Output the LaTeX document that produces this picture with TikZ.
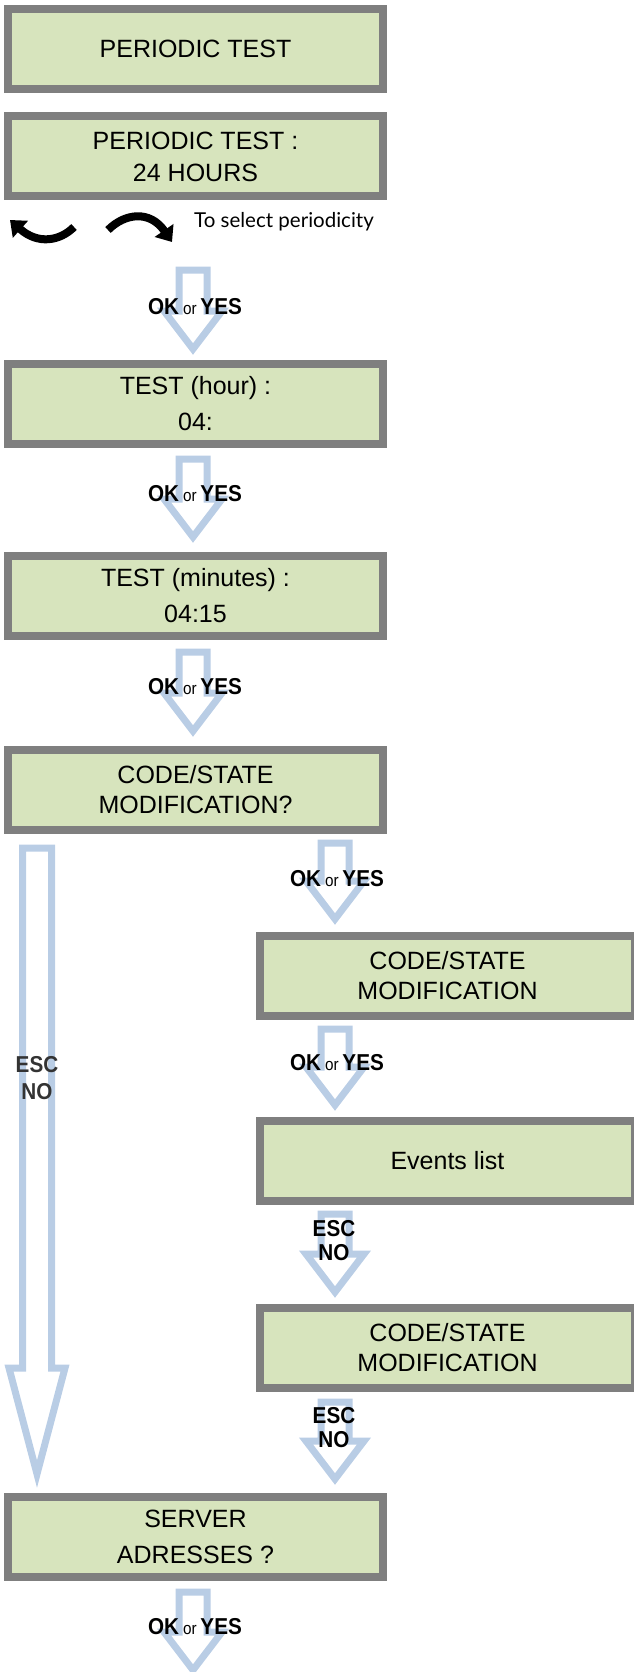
\documentclass[tikz,border=0pt]{standalone}
\usepackage{fontspec}
\setmainfont{Liberation Sans}
\newfontfamily\narrowsans[FakeStretch=0.9]{Liberation Sans}
\newfontfamily\hintfont{Lato}
\usetikzlibrary{arrows.meta,calc}
\definecolor{lcdgreen}{HTML}{D7E4BD}
\definecolor{lcdframe}{HTML}{7F7F7F}
\definecolor{keyblue}{HTML}{B9CDE5}
\tikzset{
lcd/.style={draw=lcdframe, fill=lcdgreen, line width=8pt, minimum width=375pt,
    minimum height=80pt, align=center, inner sep=0pt,
    font=\fontsize{25}{30}\selectfont},
keypath/.style={draw=keyblue, line width=7pt},
keylabel/.style={inner sep=0pt, align=center, font=\narrowsans\fontsize{23}{24}\selectfont},
turn/.style={line width=8pt, -{Triangle[length=14pt,width=22pt]}}
}
\newcommand{\okyes}{\textbf{OK}\,{\fontsize{17}{17}\selectfont or}\,\textbf{YES}}
\newcommand{\keyarrow}[5]{%
  \draw[keypath] let \p1=(#1), \p2=(#2) in
    (\x1-#3pt,\y1) -- (\x1+#3pt,\y1) -- (\x1+#3pt,\y2+#5pt) -- (\x1+#4pt,\y2+#5pt)
    -- (\x2,\y2) -- (\x1-#4pt,\y2+#5pt) -- (\x1-#3pt,\y2+#5pt) -- cycle;}

\begin{document}
\begin{tikzpicture}[x=1pt,y=-1pt]
    \useasboundingbox (0,0) rectangle (634,1672);
    \node[lcd] (b1) at (195.5,49) {PERIODIC TEST};
    \node[lcd] (b2) at (195.5,156.5) {PERIODIC TEST :\\[2pt]24 HOURS};
    \node[lcd] (b3) at (195.5,403.5) {TEST (hour) :\\[6pt]04:};
    \node[lcd] (b4) at (195.5,596) {TEST (minutes) :\\[6pt]04:15};
    \node[lcd] (b5) at (195.5,790) {CODE/STATE\\MODIFICATION?};
    \node[lcd] (b6) at (447.5,976) {CODE/STATE\\MODIFICATION};
    \node[lcd] (b7) at (447.5,1161) {Events list};
    \node[lcd] (b8) at (447.5,1348) {CODE/STATE\\MODIFICATION};
    \node[lcd] (b9) at (195.5,1536.5) {SERVER\\[6pt]ADRESSES ?};

    \draw[turn] (74,227) .. controls (60,241) and (38,245) .. (10,220);
    \draw[turn] (108,230) .. controls (125,213) and (150,210) .. (172,242);
    \node[font=\hintfont\fontsize{20.5}{22}\selectfont, inner sep=0pt] (hint) at (284,222) {To select periodicity};

    \coordinate (a1) at (193,270);  \coordinate (a1t) at (193,349);
    \coordinate (a2) at (193,459);  \coordinate (a2t) at (193,537);
    \coordinate (a3) at (193,652);  \coordinate (a3t) at (193,731);
    \coordinate (a4) at (335,843);  \coordinate (a4t) at (335,919);
    \coordinate (a5) at (335,1029); \coordinate (a5t) at (335,1105);
    \coordinate (a6) at (335,1214); \coordinate (a6t) at (335,1292);
    \coordinate (a7) at (335,1402); \coordinate (a7t) at (335,1479);
    \coordinate (a8) at (193,1592); \coordinate (a8t) at (193,1670);
    \coordinate (a0) at (37,848);   \coordinate (a0t) at (37,1474);
    \keyarrow{a1}{a1t}{14}{29}{38}
    \keyarrow{a2}{a2t}{14}{29}{38}
    \keyarrow{a3}{a3t}{14}{29}{38}
    \keyarrow{a4}{a4t}{14}{29}{38}
    \keyarrow{a5}{a5t}{14}{29}{38}
    \keyarrow{a6}{a6t}{14}{29}{38}
    \keyarrow{a7}{a7t}{14}{29}{38}
    \keyarrow{a8}{a8t}{14}{29}{38}
    \keyarrow{a0}{a0t}{14.5}{28}{106}

    \node[keylabel] (k1) at (195,307) {\okyes};
    \node[keylabel] (k2) at (195,494) {\okyes};
    \node[keylabel] (k3) at (195,687) {\okyes};
    \node[keylabel] (k4) at (337,879) {\okyes};
    \node[keylabel] (k5) at (337,1063) {\okyes};
    \node[keylabel] (k6) at (334,1241) {\textbf{ESC}\\\textbf{NO}};
    \node[keylabel] (k7) at (334,1428) {\textbf{ESC}\\\textbf{NO}};
    \node[keylabel] (k8) at (195,1627) {\okyes};
    \node[keylabel, text=black!80, font=\narrowsans\fontsize{23}{27}\selectfont] (k0) at (37,1078) {\textbf{ESC}\\\textbf{NO}};
\end{tikzpicture}
\end{document}
